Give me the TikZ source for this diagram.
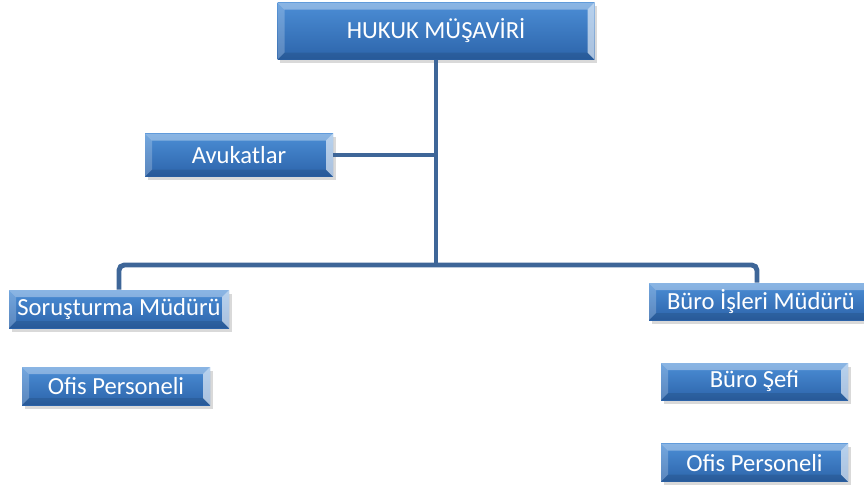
\documentclass[tikz,border=0pt]{standalone}
\usepackage{fontspec}
\setmainfont{Carlito}
\usetikzlibrary{positioning, shadows}

\definecolor{kututop}{RGB}{76,142,214}
\definecolor{kutualt}{RGB}{44,100,170}
\definecolor{hatmavi}{RGB}{62,102,152}

\tikzset{
  kutu/.style={top color=kututop, bottom color=kutualt, text=white,
    inner sep=0pt, minimum height=0.76cm,
    font=\fontsize{14}{16}\selectfont,
    drop shadow={opacity=0.3, shadow xshift=0.05cm, shadow yshift=-0.07cm},
    path picture={
      % kenar payi
      \fill[white, opacity=0.35] (path picture bounding box.north west)
        -- (path picture bounding box.north east)
        -- ([shift={(-0.14,-0.14)}]path picture bounding box.north east)
        -- ([shift={(0.14,-0.14)}]path picture bounding box.north west) -- cycle;
      \fill[white, opacity=0.6] (path picture bounding box.north east)
        -- (path picture bounding box.south east)
        -- ([shift={(-0.14,0.14)}]path picture bounding box.south east)
        -- ([shift={(-0.14,-0.14)}]path picture bounding box.north east) -- cycle;
      \fill[white, opacity=0.22] (path picture bounding box.north west)
        -- (path picture bounding box.south west)
        -- ([shift={(0.14,0.14)}]path picture bounding box.south west)
        -- ([shift={(0.14,-0.14)}]path picture bounding box.north west) -- cycle;
      \fill[black, opacity=0.1] (path picture bounding box.south west)
        -- (path picture bounding box.south east)
        -- ([shift={(-0.14,0.14)}]path picture bounding box.south east)
        -- ([shift={(0.14,0.14)}]path picture bounding box.south west) -- cycle;
    }},
  hat/.style={draw=hatmavi, line width=2.8pt, rounded corners=3pt}
}

\begin{document}
\begin{tikzpicture}
    \useasboundingbox (0,0) rectangle (17.28,-9.72);

    \node[kutu, minimum width=6.34cm, minimum height=1.14cm] (musavir) at (8.72,-0.62) {HUKUK MÜŞAVİRİ};
    \node[kutu, minimum width=3.76cm, minimum height=0.86cm] (avukat) at (4.78,-3.10) {Avukatlar};

    \node[kutu, minimum width=4.40cm] (sorusturma) at (2.38,-6.18) {Soruşturma Müdürü};
    \node[kutu, minimum width=3.76cm] (ofis1) at (2.32,-7.72) {Ofis Personeli};

    \node[kutu, minimum width=4.48cm, minimum height=0.74cm] (buro) at (15.22,-6.03) {Büro İşleri Müdürü};
    \node[kutu, minimum width=3.74cm, minimum height=0.74cm] (sef) at (15.09,-7.63) {Büro Şefi};
    \node[kutu, minimum width=3.74cm] (ofis2) [below = 0.86cm of sef] {Ofis Personeli};

    \coordinate (bus) at (8.72,-5.30);
    \draw[hat] (musavir.south) -- (bus);
    \draw[hat] (avukat.east) -- (avukat.east -| musavir.south);
    \draw[hat] (sorusturma.north) |- (bus) -| ([xshift=-0.08cm]buro.north);
\end{tikzpicture}
\end{document}
